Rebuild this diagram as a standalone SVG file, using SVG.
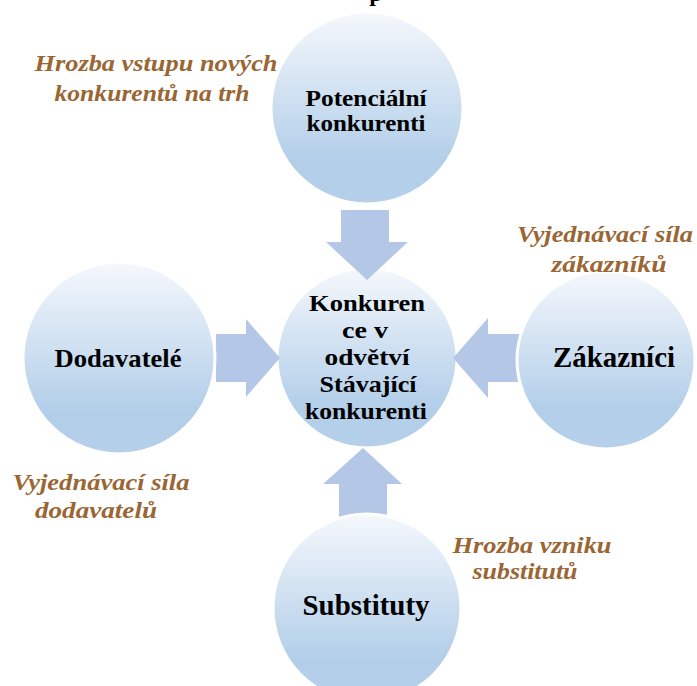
<svg xmlns="http://www.w3.org/2000/svg" width="697" height="686" viewBox="0 0 697 686">
<defs>
<linearGradient id="g" x1="0" y1="0" x2="0" y2="1">
<stop offset="0" stop-color="#f5f8fc"/>
<stop offset="0.78" stop-color="#b2cee9"/>
<stop offset="1" stop-color="#b6d0ea"/>
</linearGradient>
<style>
.c{fill:url(#g);stroke:#ffffff;stroke-width:3}
.a{fill:#b4c7e7}
.t{font-family:"Liberation Serif","DejaVu Serif","Noto Serif","Times New Roman",Times,serif;font-weight:700;fill:#000000;text-anchor:middle}
.l{font-family:"Liberation Serif","DejaVu Serif","Noto Serif","Times New Roman",Times,serif;font-weight:700;font-style:italic;fill:#9a6634;text-anchor:middle;font-size:24px}
</style>
</defs>
<rect width="697" height="686" fill="#ffffff"/>
<text class="t" x="376" y="1" font-size="24">p</text>
<g id="center">
<circle class="c" cx="367" cy="358" r="90"/>
</g>
<g id="connectors">
<polygon class="a" points="341,210 389,210 389,242 408,242 367,280 326,242 341,242"/>
<polygon class="a" points="339,517 387,517 387,484 402,484 363,448 323,484 339,484"/>
<polygon class="a" points="216,334 246,334 246,319 280,358 246,397 246,382 216,382"/>
<polygon class="a" points="520,334 488,334 488,318 453,358 488,398 488,382 520,382"/>
</g>
<g id="center-text">
<text class="t" font-size="24" x="367" y="311" textLength="116" lengthAdjust="spacingAndGlyphs">Konkuren</text>
<text class="t" font-size="24" x="365" y="338" textLength="46" lengthAdjust="spacingAndGlyphs">ce v</text>
<text class="t" font-size="24" x="367" y="365" textLength="85" lengthAdjust="spacingAndGlyphs">odvětví</text>
<text class="t" font-size="24" x="368" y="392" textLength="97" lengthAdjust="spacingAndGlyphs">Stávající</text>
<text class="t" font-size="24" x="366" y="419" textLength="122" lengthAdjust="spacingAndGlyphs">konkurenti</text>
</g>
<g id="potencialni">
<circle class="c" cx="367" cy="108" r="96"/>
<text class="t" font-size="24" x="366" y="106" textLength="121" lengthAdjust="spacingAndGlyphs">Potenciální</text>
<text class="t" font-size="24" x="366" y="131" textLength="119" lengthAdjust="spacingAndGlyphs">konkurenti</text>
</g>
<g id="dodavatele">
<circle class="c" cx="119" cy="358" r="96"/>
<text class="t" font-size="26" x="118" y="367" textLength="127" lengthAdjust="spacingAndGlyphs">Dodavatelé</text>
</g>
<g id="zakaznici">
<circle class="c" cx="606" cy="360" r="89"/>
<text class="t" font-size="29" x="614" y="367" textLength="122" lengthAdjust="spacingAndGlyphs">Zákazníci</text>
</g>
<g id="substituty">
<circle class="c" cx="367" cy="608" r="94"/>
<text class="t" font-size="29" x="366" y="615" textLength="127" lengthAdjust="spacingAndGlyphs">Substituty</text>
</g>
<g id="labels">
<text class="l" x="156" y="71" textLength="243" lengthAdjust="spacingAndGlyphs">Hrozba vstupu nových</text>
<text class="l" x="152" y="101" textLength="195" lengthAdjust="spacingAndGlyphs">konkurentů na trh</text>
<text class="l" x="605" y="242" textLength="176" lengthAdjust="spacingAndGlyphs">Vyjednávací síla</text>
<text class="l" x="609" y="272" textLength="115" lengthAdjust="spacingAndGlyphs">zákazníků</text>
<text class="l" x="101" y="490" textLength="177" lengthAdjust="spacingAndGlyphs">Vyjednávací síla</text>
<text class="l" x="96" y="518" textLength="122" lengthAdjust="spacingAndGlyphs">dodavatelů</text>
<text class="l" x="532" y="553" textLength="159" lengthAdjust="spacingAndGlyphs">Hrozba vzniku</text>
<text class="l" x="525" y="579" textLength="105" lengthAdjust="spacingAndGlyphs">substitutů</text>
</g>
</svg>
